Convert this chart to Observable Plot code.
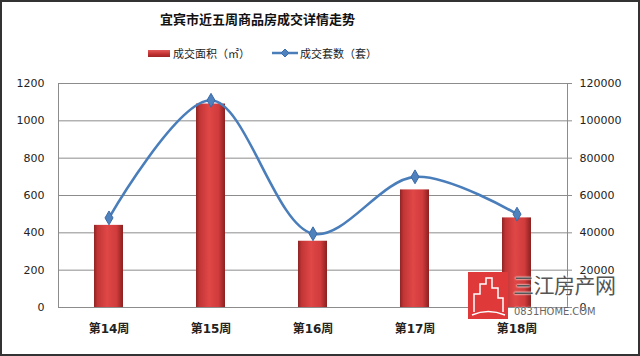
<!DOCTYPE html>
<html><head><meta charset="utf-8">
<script src="https://cdn.jsdelivr.net/npm/d3@7"></script>
<script src="https://cdn.jsdelivr.net/npm/@observablehq/plot@0.6"></script>
<style>
body{margin:0;background:#fff}
#wrap{position:relative;width:640px;height:356px;box-sizing:border-box;border:2px solid #333;background:#fff;overflow:hidden;font-family:"Noto Sans CJK SC",sans-serif}
#title{height:34px;line-height:34px;padding-left:158px;font-size:13px;font-weight:bold;color:#111;white-space:nowrap}
#legend{height:34px;display:flex;align-items:center;padding-left:146px;font-size:11px;color:#222;white-space:nowrap}
#legend .sw{display:inline-block;width:22px;height:7px;background:linear-gradient(#e35a5a,#c0302f 60%,#9e2525);margin-right:3px}
#legend .item2{display:flex;align-items:center;margin-left:22px}
#chart svg{display:block}
#wm{position:absolute;left:466px;top:270px;pointer-events:none}
#wm .logo{position:absolute;left:0;top:0;width:40px;height:47px;background:#e0393a}
#wm .t1{position:absolute;left:45px;top:0px;font-size:21px;line-height:24px;color:#555;letter-spacing:-0.5px;text-shadow:0 0 2px #fff,0 0 2px #fff;white-space:nowrap}
#wm .t2{position:absolute;left:46px;top:33px;font-family:"DejaVu Sans Condensed","DejaVu Sans",sans-serif;font-size:11px;line-height:13px;color:#666;white-space:nowrap;text-shadow:0 0 2px #fff}
</style></head>
<body>
<div id="wrap">
  <div id="title">宜宾市近五周商品房成交详情走势</div>
  <div id="legend">
    <span class="sw"></span><span>成交面积（㎡）</span>
    <span class="item2"><svg width="26" height="10"><line x1="0" y1="5" x2="26" y2="5" stroke="#4a7ebb" stroke-width="2.5"/><path d="M13,1L17,5L13,9L9,5Z" fill="#4f81bd" stroke="#3d6fae"/></svg><span style="margin-left:2px">成交套数（套）</span></span>
  </div>
  <div id="chart"></div>
  <div id="wm">
    <div class="logo"><svg width="40" height="47"><path d="M6,40 L6,22 L12,22 L12,12 L18,12 L18,6 L24,6 L24,16 L30,16 L30,26 L35,26 L35,40" fill="none" stroke="#fff" stroke-width="1.5"/><path d="M4,43 Q20,36 37,43" fill="none" stroke="#fff" stroke-width="1.5"/></svg></div>
    <div class="t1">三江房产网</div>
    <div class="t2">0831HOME.COM</div>
  </div>
</div>
<script>
const weeks = ["第14周", "第15周", "第16周", "第17周", "第18周"];
const area = [440, 1090, 355, 630, 480];
const units = [48000, 111000, 39500, 70000, 50000];
const leftTicks = [0, 200, 400, 600, 800, 1000, 1200];
const rightTicks = [0, 20000, 40000, 60000, 80000, 100000, 120000];
const ratio = 100;

const data = weeks.map((w, i) => ({week: w, area: area[i], units: units[i] / ratio}));

const chart = Plot.plot({
  width: 636,
  height: 284,
  marginTop: 13,
  marginBottom: 47,
  marginLeft: 56,
  marginRight: 71,
  style: {fontFamily: "DejaVu Sans, Noto Sans CJK SC, sans-serif", fontSize: "11px", color: "#222", background: "white"},
  x: {domain: weeks, paddingInner: 0.715, paddingOuter: 0.35, label: null},
  y: {domain: [0, 1200], label: null},
  marks: [
    Plot.gridY(leftTicks, {stroke: "#8c8c8c", strokeOpacity: 1}),
    Plot.frame({stroke: "#8c8c8c"}),
    Plot.axisY(leftTicks, {anchor: "left", tickSize: 0, tickPadding: 14, fill: "#222", tickFormat: (d) => String(d), label: null}),
    Plot.axisY(leftTicks, {anchor: "right", tickSize: 4, tickPadding: 8, stroke: "#8c8c8c", fill: "#222",
      tickFormat: (d) => String(rightTicks[leftTicks.indexOf(d)]), label: null}),
    Plot.axisX({tickSize: 0, tickPadding: 17, fontWeight: "bold", fontSize: 12, fill: "#222", label: null}),
    Plot.barY(data, {x: "week", y: "area", fill: "#c83737"}),
    Plot.line(data, {x: "week", y: "units", stroke: "#4a7ebb", strokeWidth: 2.6, curve: "catmull-rom"}),
    Plot.dot(data, {x: "week", y: "units", symbol: "diamond", r: 4.2, fill: "#4f81bd", stroke: "#3a6aa6", strokeWidth: 1})
  ]
});

// bar gradient
const svg = d3.select(chart);
const defs = svg.insert("defs", ":first-child");
const g = defs.append("linearGradient").attr("id", "barGrad").attr("x1", 0).attr("x2", 1).attr("y1", 0).attr("y2", 0);
[[0, "#8e2424"], [0.12, "#c23535"], [0.45, "#e04747"], [0.78, "#d03b3b"], [1, "#8a2020"]]
  .forEach(([o, c]) => g.append("stop").attr("offset", o).attr("stop-color", c));
svg.selectAll("g[aria-label='bar'] rect").attr("fill", "url(#barGrad)");

document.getElementById("chart").appendChild(chart);
</script>
</body></html>
